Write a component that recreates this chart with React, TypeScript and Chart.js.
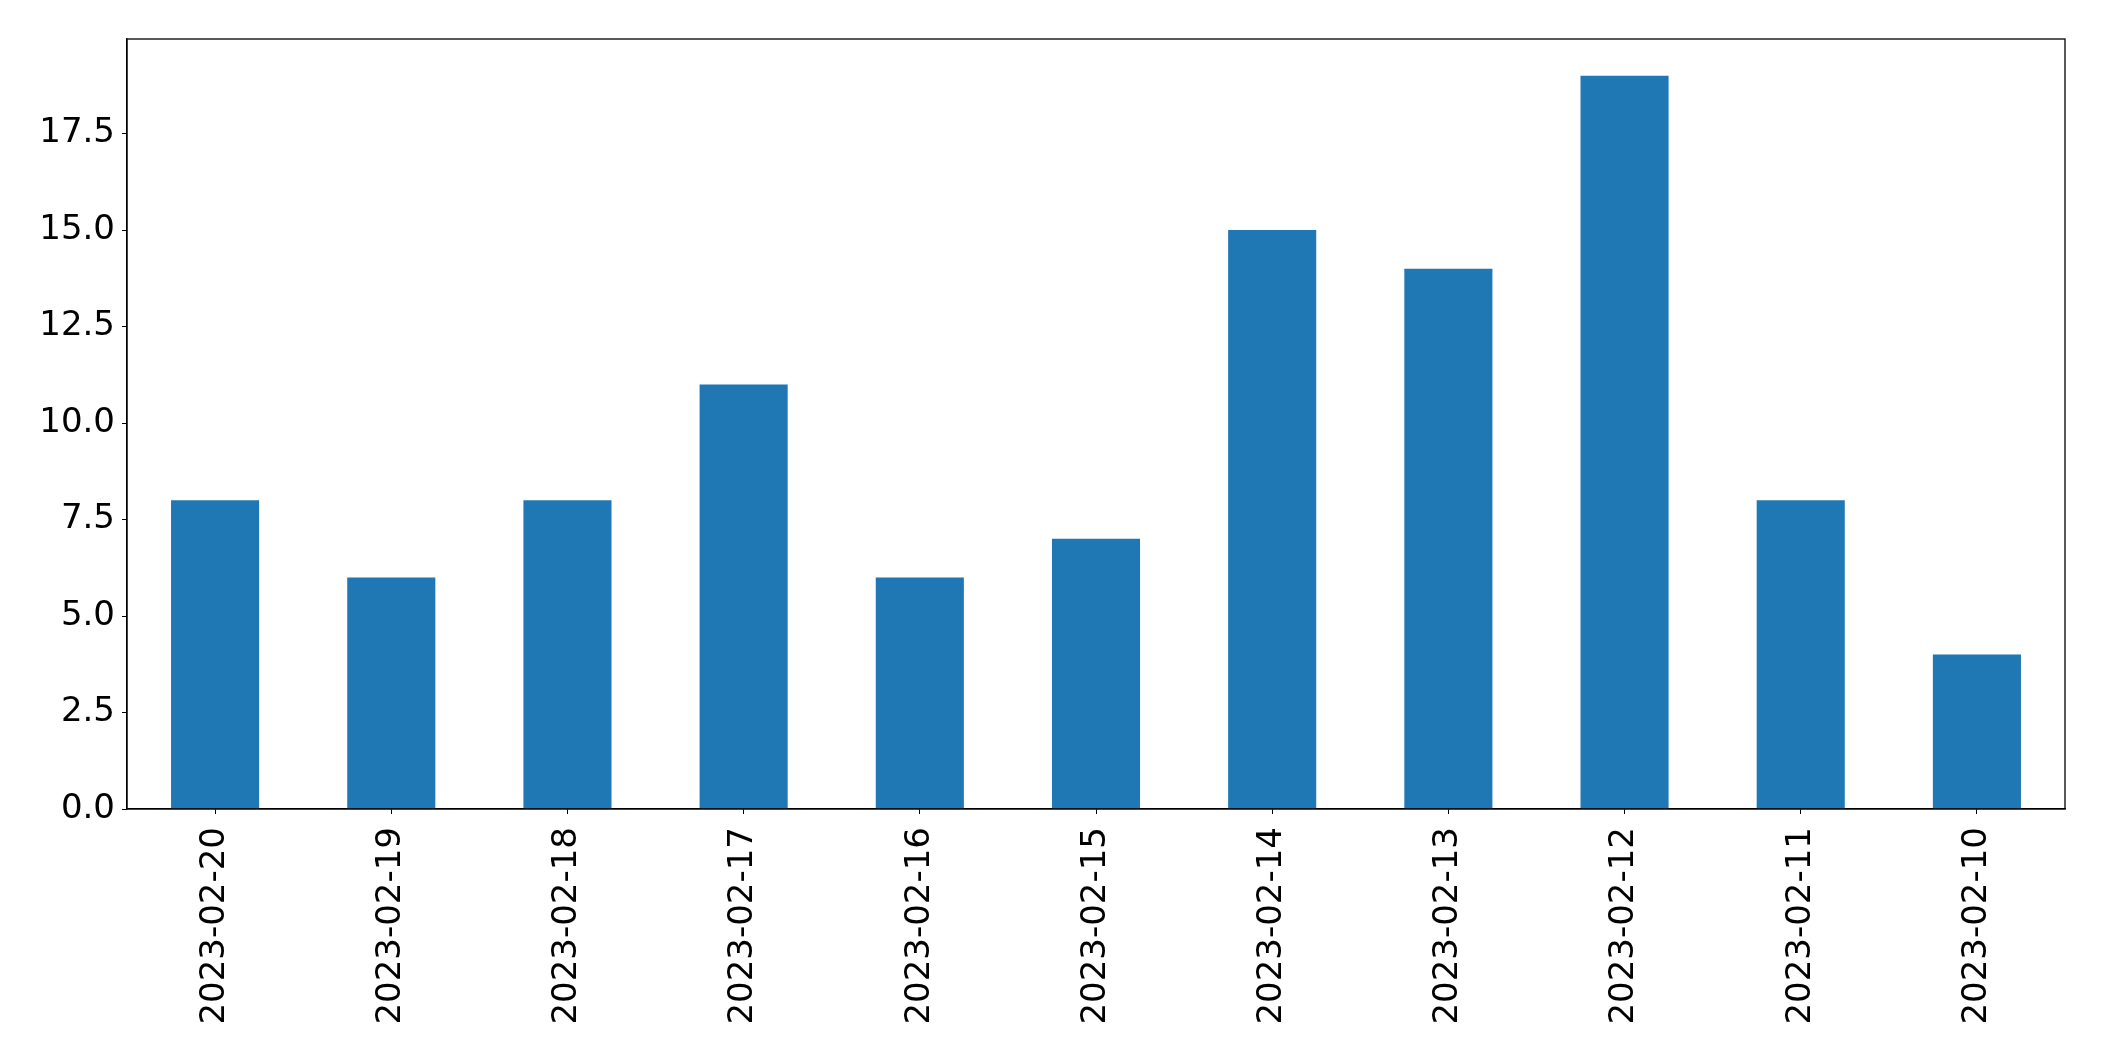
import React, { useEffect, useRef } from "react";
import { Chart, registerables } from "chart.js";

Chart.register(...registerables);

const categories = [
  "2023-02-20",
  "2023-02-19",
  "2023-02-18",
  "2023-02-17",
  "2023-02-16",
  "2023-02-15",
  "2023-02-14",
  "2023-02-13",
  "2023-02-12",
  "2023-02-11",
  "2023-02-10",
];
const values = [8, 6, 8, 11, 6, 7, 15, 14, 19, 8, 4];
const yTicks = [0, 2.5, 5, 7.5, 10, 12.5, 15, 17.5];
const yMax = 19.95;

const W = 2104;
const H = 1061;

const framePlugin = {
  id: "frame",
  afterDraw(chart: any) {
    const { ctx, chartArea } = chart;
    ctx.save();
    ctx.strokeStyle = "#000";
    ctx.lineWidth = 1.3;
    ctx.strokeRect(chartArea.left, chartArea.top, chartArea.right - chartArea.left, chartArea.bottom - chartArea.top);
    ctx.restore();
  },
};

export default function App() {
  const ref = useRef<HTMLCanvasElement | null>(null);
  useEffect(() => {
    if (!ref.current) return;
    const font = { family: "'DejaVu Sans', sans-serif", size: 34 };
    const chart = new Chart(ref.current, {
      type: "bar",
      data: {
        labels: categories,
        datasets: [
          {
            data: values,
            backgroundColor: "#1f77b4",
            borderWidth: 0,
            categoryPercentage: 0.5,
            barPercentage: 1,
          },
        ],
      },
      plugins: [framePlugin],
      options: {
        animation: false,
        responsive: false,
        devicePixelRatio: 1,
        layout: { padding: { top: 39, right: 39, left: 0, bottom: 0 } },
        plugins: { legend: { display: false }, tooltip: { enabled: false } },
        scales: {
          x: {
            offset: true,
            grid: { drawOnChartArea: false, drawTicks: true, tickLength: 5, color: "#000", offset: false },
            border: { display: true, color: "#000", width: 1.3 },
            ticks: { color: "#000", font, maxRotation: 90, minRotation: 90, padding: 13, autoSkip: false },
            afterFit(scale: any) {
              scale.height = H - 809;
            },
          },
          y: {
            min: 0,
            max: yMax,
            grid: { drawOnChartArea: false, drawTicks: true, tickLength: 5, color: "#000" },
            border: { display: true, color: "#000", width: 1.3 },
            ticks: {
              color: "#000",
              font,
              padding: 7,
              callback: (v: any) => Number(v).toFixed(1),
            },
            afterBuildTicks(scale: any) {
              scale.ticks = yTicks.map((v) => ({ value: v }));
            },
            afterFit(scale: any) {
              scale.width = 127;
            },
          },
        },
      },
    });
    return () => chart.destroy();
  }, []);
  return (
    <div style={{ position: "absolute", left: 0, top: 0, width: W, height: H, background: "#fff" }}>
      <canvas ref={ref} width={W} height={H} style={{ width: W, height: H, display: "block" }} />
    </div>
  );
}
